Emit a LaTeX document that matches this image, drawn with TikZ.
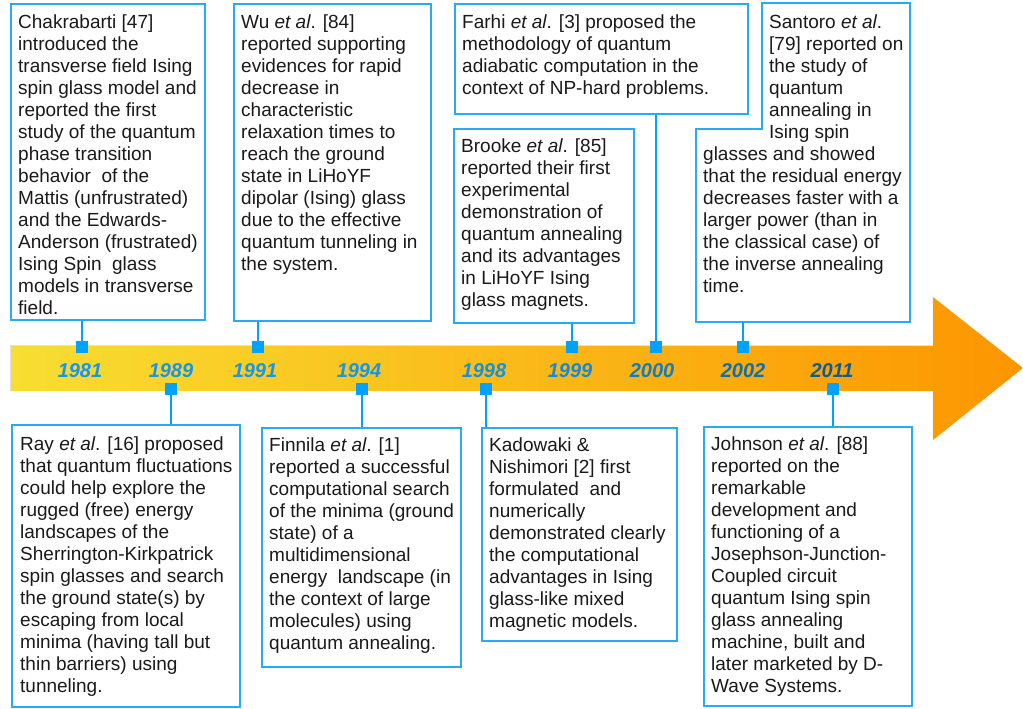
\documentclass[tikz,border=0pt]{standalone}
\usepackage{fontspec}
\setmainfont{Liberation Sans}
\usetikzlibrary{positioning}
\definecolor{tlblue}{RGB}{0,162,255}
\definecolor{boxblue}{RGB}{40,170,245}
\definecolor{yearblue}{RGB}{24,150,230}
\definecolor{yeardark}{RGB}{16,92,145}
\definecolor{bandyellow}{RGB}{248,222,50}
\definecolor{bandorange}{RGB}{252,150,0}
\definecolor{txtgray}{RGB}{26,26,26}

\begin{document}
\begin{tikzpicture}[
    x=1pt, y=-1pt,
    evline/.style={draw=boxblue, line width=1.8pt},
    evbox/.style={rectangle, evline, fill=white, anchor=north west, inner sep=0pt},
    evtext/.style={anchor=north west, inner sep=0pt, align=left, text=txtgray, font=\fontsize{19}{22}\selectfont},
    marker/.style={rectangle, fill=tlblue, minimum size=12pt, inner sep=0pt},
    link/.style={draw=tlblue, line width=2.7pt},
    yearlbl/.style={font=\fontsize{20}{24}\selectfont\bfseries\itshape, inner sep=0pt}
]
\useasboundingbox (0,0) rectangle (1023,709);

% Timeline arrow
\shade[left color=bandyellow, right color=bandorange]
    (10,345) -- (933,345) -- (933,297) -- (1023,368) -- (933,440) -- (933,391) -- (10,391) -- cycle;
\draw[black!12, line width=0.8pt] (10,391) -- (10,345) -- (933,345);

% Year labels
\node[yearlbl, text=yearblue] (y1981) at (80,371) {1981};
\node[yearlbl, text=yearblue] (y1989) at (171,371) {1989};
\node[yearlbl, text=yearblue] (y1991) at (255,371) {1991};
\node[yearlbl, text=yearblue] (y1994) at (359,371) {1994};
\node[yearlbl, text=yearblue!90!yeardark] (y1998) at (484,371) {1998};
\node[yearlbl, text=yearblue!80!yeardark] (y1999) at (570,371) {1999};
\node[yearlbl, text=yearblue!55!yeardark] (y2000) at (652,371) {2000};
\node[yearlbl, text=yearblue!30!yeardark] (y2002) at (743,371) {2002};
\node[yearlbl, text=yeardark] (y2011) at (832,371) {2011};

% Top events
\node[evbox, minimum width=194, minimum height=316] (chak) at (10,3) {};
\node[evtext] at ([shift={(8,12)}]chak.north west) {Chakrabarti [47]\\introduced the\\transverse field Ising\\spin glass model and\\reported the first\\study of the quantum\\phase transition\\behavior\ \ of the\\Mattis (unfrustrated)\\and the Edwards-\\Anderson (frustrated)\\Ising Spin\ \ glass\\models in transverse\\field.};

\node[evbox, minimum width=197, minimum height=317] (wu) at (233,3) {};
\node[evtext] at ([shift={(8,12)}]wu.north west) {Wu \textit{et al}. [84]\\reported supporting\\evidences for rapid\\decrease in\\characteristic\\relaxation times to\\reach the ground\\state in LiHoYF\\dipolar (Ising) glass\\due to the effective\\quantum tunneling in\\the system.};

\node[evbox, minimum width=293, minimum height=110] (farhi) at (454,3) {};
\node[evtext] at ([shift={(8,12)}]farhi.north west) {Farhi \textit{et al}. [3] proposed the\\methodology of quantum\\adiabatic computation in the\\context of NP-hard problems.};

\node[evbox, minimum width=180, minimum height=194] (brooke) at (453,128) {};
\node[evtext] at ([shift={(8,11)}]brooke.north west) {Brooke \textit{et al}. [85]\\reported their first\\experimental\\demonstration of\\quantum annealing\\and its advantages\\in LiHoYF Ising\\glass magnets.};

\draw[evline, fill=white] (762,3) -- (910,3) -- (910,322) -- (696,322) -- (696,129) -- (762,129) -- cycle;
\coordinate (santoro) at (742,322);
\node[evtext] at (703,15) {\hspace*{66pt}Santoro \textit{et al}.\\\hspace*{66pt}[79] reported on\\\hspace*{66pt}the study of\\\hspace*{66pt}quantum\\\hspace*{66pt}annealing in\\\hspace*{66pt}Ising spin\\glasses and showed\\that the residual energy\\decreases faster with a\\larger power (than in\\the classical case) of\\the inverse annealing\\time.};

% Bottom events
\node[evbox, minimum width=228, minimum height=282] (ray) at (11,424) {};
\node[evtext] at ([shift={(9,13)}]ray.north west) {Ray \textit{et al}. [16] proposed\\that quantum fluctuations\\could help explore the\\rugged (free) energy\\landscapes of the\\Sherrington-Kirkpatrick\\spin glasses and search\\the ground state(s) by\\escaping from local\\minima (having tall but\\thin barriers) using\\tunneling.};

\node[evbox, minimum width=199, minimum height=239] (finnila) at (261,427) {};
\node[evtext] at ([shift={(8,11)}]finnila.north west) {Finnila \textit{et al}. [1]\\reported a successful\\computational search\\of the minima (ground\\state) of a\\multidimensional\\energy\ \ landscape (in\\the context of large\\molecules) using\\quantum annealing.};

\node[evbox, minimum width=195, minimum height=213] (kado) at (481,427) {};
\node[evtext] at ([shift={(8,11)}]kado.north west) {Kadowaki \&\\Nishimori [2] first\\formulated\ \ and\\numerically\\demonstrated clearly\\the computational\\advantages in Ising\\glass-like mixed\\magnetic models.};

\node[evbox, minimum width=208, minimum height=279] (johnson) at (703,426) {};
\node[evtext] at ([shift={(8,11)}]johnson.north west) {Johnson \textit{et al}. [88]\\reported on the\\remarkable\\development and\\functioning of a\\Josephson-Junction-\\Coupled circuit\\quantum Ising spin\\glass annealing\\machine, built and\\later marketed by D-\\Wave Systems.};

% Markers
\node[marker] (m1981) at (82,347) {};
\node[marker] (m1991) at (258,347) {};
\node[marker] (m1999) at (572,347) {};
\node[marker] (m2000) at (656,347) {};
\node[marker] (m2002) at (743,347) {};
\node[marker] (m1989) at (171,389) {};
\node[marker] (m1994) at (362,389) {};
\node[marker] (m1998) at (486,389) {};
\node[marker] (m2011) at (833,389) {};

% Connectors
\draw[link] (m1981.north) -- (m1981.north |- chak.south);
\draw[link] (m1991.north) -- (m1991.north |- wu.south);
\draw[link] (m1999.north) -- (m1999.north |- brooke.south);
\draw[link] (m2000.north) -- (m2000.north |- farhi.south);
\draw[link] (m2002.north) -- (m2002.north |- santoro);
\draw[link] (m1989.south) -- (m1989.south |- ray.north);
\draw[link] (m1994.south) -- (m1994.south |- finnila.north);
\draw[link] (m1998.south) -- (m1998.south |- kado.north);
\draw[link] (m2011.south) -- (m2011.south |- johnson.north);

\end{tikzpicture}
\end{document}
